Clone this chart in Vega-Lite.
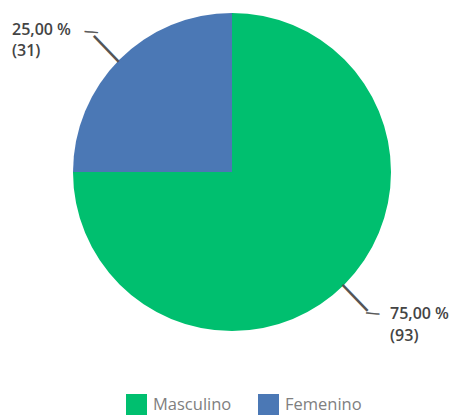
{
  "$schema": "https://vega.github.io/schema/vega-lite/v6.json",
  "width": 444,
  "height": 344,
  "padding": {"left": 10, "top": 0, "right": 0, "bottom": 0},
  "autosize": {"type": "pad"},
  "background": "white",
  "view": {"stroke": null},
  "data": {
    "values": [
      {"genero": "Masculino", "n": 93, "pct": "75,00 %"},
      {"genero": "Femenino", "n": 31, "pct": "25,00 %"}
    ]
  },
  "transform": [
    {"calculate": "datum.pct + '|(' + datum.n + ')'", "as": "label"}
  ],
  "encoding": {
    "theta": {"field": "n", "type": "quantitative", "stack": true},
    "order": {"field": "genero", "sort": "descending"}
  },
  "layer": [
    {
      "mark": {"type": "arc", "outerRadius": 159},
      "encoding": {
        "color": {
          "field": "genero",
          "type": "nominal",
          "scale": {"domain": ["Masculino", "Femenino"], "range": ["#00BF6F", "#4B78B5"]},
          "legend": {
            "title": null,
            "orient": "none",
            "legendX": 116,
            "legendY": 394,
            "direction": "horizontal",
            "symbolType": "square",
            "symbolSize": 441,
            "symbolStrokeWidth": 0,
            "symbolOpacity": 1,
            "labelFont": "Open Sans",
            "labelFontSize": 16.5,
            "labelColor": "#808080",
            "labelOffset": 6,
            "columnPadding": 26,
            "padding": 0
          }
        }
      }
    },
    {
      "mark": {"type": "text", "radius": 176, "angle": 46, "align": "center", "baseline": "middle", "font": "Liberation Sans", "fontSize": 36, "color": "#555555", "text": "—"},
      "encoding": {"detail": {"field": "genero"}}
    },
    {
      "mark": {"type": "text", "radius": 199, "angle": 5, "align": "center", "baseline": "middle", "font": "Liberation Sans", "fontSize": 13, "color": "#555555", "stroke": "#555555", "strokeWidth": 0.5, "text": "—"},
      "encoding": {"detail": {"field": "genero"}}
    },
    {
      "mark": {"type": "text", "radius": 200, "align": "left", "baseline": "middle", "dx": -78.6, "dy": -0.6, "lineBreak": "|", "lineHeight": 21.5, "font": "Open Sans", "fontWeight": 600, "fontSize": 16, "color": "#444444"},
      "encoding": {
        "detail": {"field": "genero"},
        "text": {"condition": {"test": "datum.genero === 'Femenino'", "field": "label"}, "value": ""}
      }
    },
    {
      "mark": {"type": "text", "radius": 200, "align": "left", "baseline": "middle", "dx": 16.6, "dy": 0.1, "lineBreak": "|", "lineHeight": 22.5, "font": "Open Sans", "fontWeight": 600, "fontSize": 16, "color": "#444444"},
      "encoding": {
        "detail": {"field": "genero"},
        "text": {"condition": {"test": "datum.genero === 'Masculino'", "field": "label"}, "value": ""}
      }
    }
  ]
}
